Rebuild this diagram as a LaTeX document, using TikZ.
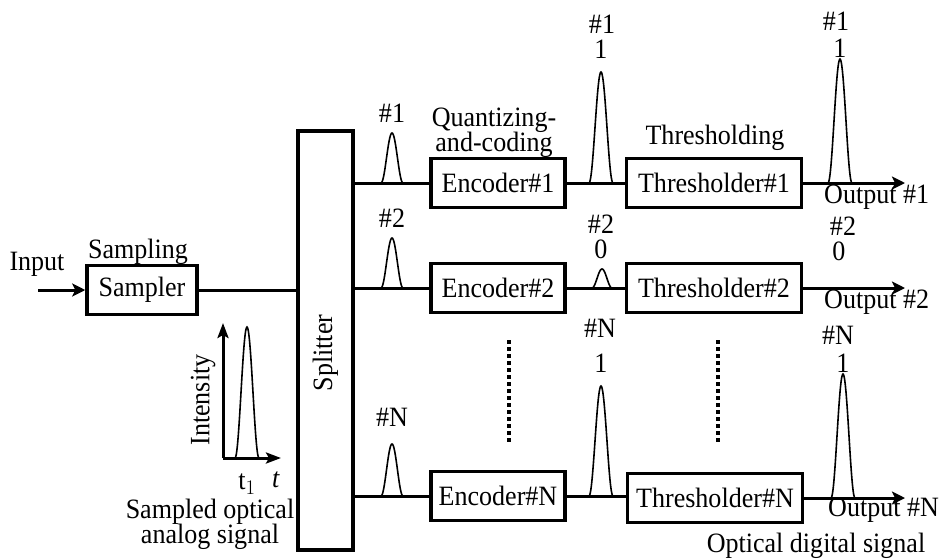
\documentclass[tikz,border=0pt]{standalone}
\usepackage{fontspec}
\setmainfont[FakeStretch=0.93]{Liberation Serif}
\usetikzlibrary{arrows.meta}
\begin{document}
\begin{tikzpicture}[x=1pt,y=-1pt,
  font=\fontsize{28}{28}\selectfont,
  box/.style={draw,line width=3.5pt,minimum height=49pt,inner sep=0pt},
  conn/.style={line width=3pt},
  arr/.style={conn,-{Stealth[length=13pt,width=13pt,inset=3pt]}},
  axarr/.style={line width=3pt,-{Stealth[length=15pt,width=11pt,inset=3pt]}},
  lbl/.style={inner sep=0pt},
  pulseline/.style={line width=1.6pt},
  pulse/.pic={\draw[pulseline] plot[domain=-1:1,samples=41,smooth] (\x,{-(1+cos(180*\x))/2});},
  dots/.style={line width=4pt,dash pattern=on 4pt off 3pt}
]
\useasboundingbox (0,0) rectangle (943,558);

% boxes
\node[box,minimum width=110pt] (smp) at (142,290) {Sampler};
\node[box,minimum width=55pt,minimum height=419pt] (spl) at (325.5,340.5) {};
\node[lbl,rotate=90] (spltxt) at (325.5,353) {Splitter};
\node[box,minimum width=134pt] (enc1) at (498,183) {Encoder\#1};
\node[box,minimum width=134pt] (enc2) at (498,288) {Encoder\#2};
\node[box,minimum width=134pt] (encN) at (498,496) {Encoder\#N};
\node[box,minimum width=175pt] (thr1) at (714,183) {Thresholder\#1};
\node[box,minimum width=175pt] (thr2) at (714,288) {Thresholder\#2};
\node[box,minimum width=175pt] (thrN) at (715,498) {Thresholder\#N};

% connectors
\coordinate (in) at (38,290);
\draw[arr] (in) -- (smp.west);
\draw[conn] (smp.east) -- (smp.east -| spl.west);
\draw[conn] (spl.east |- enc1.west) -- (enc1.west);
\draw[conn] (spl.east |- enc2.west) -- (enc2.west);
\draw[conn] (spl.east |- encN.west) -- (encN.west);
\draw[conn] (enc1.east) -- (thr1.west);
\draw[conn] (enc2.east) -- (thr2.west);
\draw[conn] (encN.east) -- (encN.east -| thrN.west);
\coordinate (out1) at (905,183);
\coordinate (out2) at (905,288);
\coordinate (outN) at (905,498);
\draw[arr] (thr1.east) -- (out1);
\draw[arr] (thr2.east) -- (out2);
\draw[arr] (thrN.east) -- (outN);

% dotted continuation
\coordinate (d1a) at (509,340); \coordinate (d1b) at (509,442);
\coordinate (d2a) at (718,340); \coordinate (d2b) at (718,442);
\draw[dots] (d1a) -- (d1b);
\draw[dots] (d2a) -- (d2b);

% pulses
\pic[xscale=11,yscale=50] at (392,183) {pulse};
\pic[xscale=11,yscale=50] at (392,288) {pulse};
\pic[xscale=11,yscale=52] at (392,496) {pulse};
\pic[xscale=12,yscale=111] at (601,183) {pulse};
\pic[xscale=10,yscale=19] at (602,288) {pulse};
\pic[xscale=12,yscale=110] at (601,496) {pulse};
\pic[xscale=12,yscale=124] at (840,183) {pulse};
\pic[xscale=12,yscale=124] at (843,498) {pulse};

% intensity inset
\coordinate (org) at (223,458);
\coordinate (ytop) at (223,323);
\coordinate (xend) at (281,458);
\draw[axarr] (org) -- (ytop);
\draw[axarr] (org) -- (xend);
\pic[xscale=12,yscale=131] at (247,458) {pulse};
\node[lbl,rotate=90] (inty) at (203,400) {Intensity};
\node[lbl] (t1) at (247,484) {t$_1$};
\node[lbl] (tt) at (276,480) {\textit{t}};

% labels
\node[lbl] (linput) at (37,264) {Input};
\node[lbl] (lsamp) at (138,252) {Sampling};
\node[lbl,align=center] (lquant) at (494,133) {Quantizing-\\[-3pt]and-coding};
\node[lbl] (lthr) at (715,138) {Thresholding};
\node[lbl,align=center] (lsoas) at (210,524) {Sampled optical\\[-3pt]analog signal};
\node[lbl] (lods) at (816,546) {Optical digital signal};

\node[lbl] (a1) at (392,113) {\#1};
\node[lbl] (a2) at (392,218) {\#2};
\node[lbl] (aN) at (392,417) {\#N};

\node[lbl] (b1) at (602,24) {\#1};
\node[lbl] (b1v) at (601,49) {1};
\node[lbl] (b2) at (601,224) {\#2};
\node[lbl] (b2v) at (601,249) {0};
\node[lbl] (bN) at (600,328) {\#N};
\node[lbl] (bNv) at (601,363) {1};

\node[lbl] (c1) at (836,21) {\#1};
\node[lbl] (c1v) at (840,48) {1};
\node[lbl] (c2) at (843,226) {\#2};
\node[lbl] (c2v) at (839,251) {0};
\node[lbl] (cN) at (838,335) {\#N};
\node[lbl] (cNv) at (843,363) {1};

\node[lbl,anchor=west] (o1) at (824,197) {Output \#1};
\node[lbl,anchor=west] (o2) at (824,302) {Output \#2};
\node[lbl,anchor=west] (oN) at (828,510) {Output \#N};
\end{tikzpicture}
\end{document}
